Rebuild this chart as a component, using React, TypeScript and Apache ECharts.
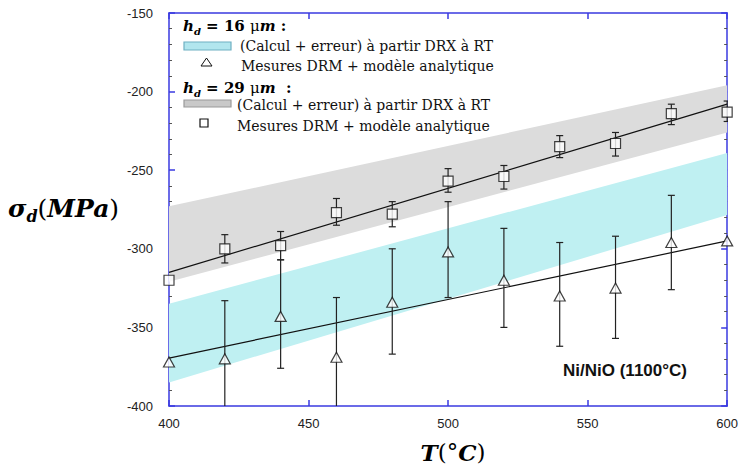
import React, { useEffect, useRef } from "react";
import * as echarts from "echarts";

// ---- data ----
const temps = [400, 420, 440, 460, 480, 500, 520, 540, 560, 580, 600];
// h_d = 29 µm  (squares)
const sqVals = [-320, -300, -298, -277, -278, -257, -254, -235, -233, -214, -213];
const sqErrLow: (number | null)[] = [null, -309, -307, -285, -286, -264, -262, -242, -241, -221, -219];
const sqErrHigh: (number | null)[] = [null, -291, -289, -268, -270, -249, -247, -228, -226, -208, -206];
// h_d = 16 µm  (triangles)
const triVals = [-372, -370, -343, -369, -334, -302, -320, -330, -325, -296, -295];
const triErrLow: (number | null)[] = [null, -408, -376, -408, -367, -331, -350, -362, -357, -326, null];
const triErrHigh: (number | null)[] = [null, -333, -307, -331, -300, -270, -287, -296, -292, -266, null];
// linear fits
const fitX = [400, 600];
const sqFit = [-315, -208];
const triFit = [-369.5, -295];
// calculated bands (calcul + erreur)
const bandX = [400, 600];
const grayLow = [-321, -226];
const grayHigh = [-273, -196];
const cyanLow = [-385, -278.5];
const cyanHigh = [-335, -239];
// axes
const xMin = 400, xMax = 600, xStep = 50;
const yMin = -400, yMax = -150, yStep = 50;

const BLUE = "#3a3ae0";
const SERIF = '"DejaVu Serif"';

function bandSeries(low: number[], high: number[], color: string) {
  return {
    type: "custom",
    silent: true,
    z: 1,
    clip: true,
    data: [[bandX[0], low[0]]],
    renderItem: (_p: any, api: any) => {
      const top = bandX.map((x, i) => api.coord([x, high[i]]));
      const bot = bandX.map((x, i) => api.coord([x, low[i]])).reverse();
      return { type: "polygon", shape: { points: [...top, ...bot] }, style: { fill: color } };
    },
  };
}

function errSeries(low: (number | null)[], high: (number | null)[]) {
  const data: number[][] = [];
  temps.forEach((t, i) => {
    if (low[i] != null && high[i] != null) data.push([t, low[i] as number, high[i] as number]);
  });
  return {
    type: "custom",
    silent: true,
    z: 3,
    clip: true,
    encode: { x: 0, y: [1, 2] },
    data,
    renderItem: (_p: any, api: any) => {
      const x = api.value(0);
      const a = api.coord([x, api.value(1)]);
      const b = api.coord([x, api.value(2)]);
      const w = 3.5;
      const st = { stroke: "#222", lineWidth: 1.2 };
      return {
        type: "group",
        children: [
          { type: "line", shape: { x1: a[0], y1: a[1], x2: b[0], y2: b[1] }, style: st },
          { type: "line", shape: { x1: a[0] - w, y1: a[1], x2: a[0] + w, y2: a[1] }, style: st },
          { type: "line", shape: { x1: b[0] - w, y1: b[1], x2: b[0] + w, y2: b[1] }, style: st },
        ],
      };
    },
  };
}

function axisCommon(showLabel: boolean) {
  return {
    axisLine: { show: true, lineStyle: { color: BLUE, width: 1.5 } },
    axisTick: { show: true, inside: true, length: 6, lineStyle: { color: BLUE, width: 1.5 } },
    splitLine: { show: false },
    axisLabel: showLabel
      ? { show: true, color: "#222", fontFamily: '"Liberation Sans"', fontSize: 13 }
      : { show: false },
  };
}

const legendText = { font: `14px ${SERIF}`, fill: "#111" };
const headingRich = {
  i: { fontFamily: SERIF, fontStyle: "italic", fontWeight: "bold", fontSize: 15, lineHeight: 20, color: "#111" },
  sub: { fontFamily: SERIF, fontStyle: "italic", fontWeight: "bold", fontSize: 10, lineHeight: 10, verticalAlign: "bottom", color: "#111" },
  b: { fontFamily: SERIF, fontWeight: "bold", fontSize: 15, lineHeight: 20, color: "#111" },
  n: { fontFamily: SERIF, fontSize: 15, lineHeight: 20, color: "#111" },
};

export default function App() {
  const ref = useRef<HTMLDivElement>(null);
  useEffect(() => {
    if (!ref.current) return;
    const chart = echarts.init(ref.current, null, { renderer: "svg" });
    const option: any = {
      animation: false,
      backgroundColor: "#fff",
      grid: { left: 169, right: 12, top: 13, bottom: 60 },
      xAxis: [
        { type: "value", min: xMin, max: xMax, interval: xStep, ...axisCommon(true),
          axisLabel: { color: "#222", fontFamily: '"Liberation Sans"', fontSize: 13, margin: 11 } },
        { type: "value", position: "top", min: xMin, max: xMax, interval: xStep, ...axisCommon(false) },
      ],
      yAxis: [
        { type: "value", min: yMin, max: yMax, interval: yStep, ...axisCommon(true),
          axisLabel: { color: "#222", fontFamily: '"Liberation Sans"', fontSize: 13, margin: 16 },
          minorTick: { show: true, splitNumber: 5, length: 3, lineStyle: { color: "#555" } } },
        { type: "value", position: "right", min: yMin, max: yMax, interval: yStep, ...axisCommon(false),
          minorTick: { show: true, splitNumber: 5, length: 3, lineStyle: { color: "#555" } } },
      ],
      series: [
        bandSeries(grayLow, grayHigh, "#dcdcdc"),
        bandSeries(cyanLow, cyanHigh, "#bff0f2"),
        { type: "line", z: 2, data: fitX.map((x, i) => [x, sqFit[i]]), symbol: "none", silent: true,
          lineStyle: { color: "#111", width: 1.2 } },
        { type: "line", z: 2, data: fitX.map((x, i) => [x, triFit[i]]), symbol: "none", silent: true,
          lineStyle: { color: "#111", width: 1.2 } },
        errSeries(sqErrLow, sqErrHigh),
        errSeries(triErrLow, triErrHigh),
        { type: "scatter", z: 5, data: temps.map((t, i) => [t, sqVals[i]]), symbol: "rect", symbolSize: 10,
          itemStyle: { color: "#fff", borderColor: "#111", borderWidth: 1.2 } },
        { type: "scatter", z: 5, data: temps.map((t, i) => [t, triVals[i]]), symbol: "triangle", symbolSize: [11, 10],
          itemStyle: { color: "#fff", borderColor: "#111", borderWidth: 1.2 } },
      ],
      graphic: [
        // legend
        { type: "text", x: 183, y: 26, style: { text: "{i|h}{sub|d}{b| = 16 }{n|μ}{i|m}{b| :}", rich: headingRich, verticalAlign: "middle" } },
        { type: "rect", shape: { x: 184, y: 42, width: 47, height: 8 }, style: { fill: "#b2e6ee", stroke: "#6fb0c2", lineWidth: 1.2 } },
        { type: "text", x: 240, y: 46, style: { ...legendText, text: "(Calcul + erreur) à partir DRX à RT", verticalAlign: "middle" } },
        { type: "polygon", shape: { points: [[201, 66], [212, 66], [206.5, 58]] }, style: { fill: "#fff", stroke: "#111", lineWidth: 1 } },
        { type: "text", x: 241, y: 66, style: { ...legendText, text: "Mesures DRM + modèle analytique", verticalAlign: "middle" } },
        { type: "text", x: 183, y: 88, style: { text: "{i|h}{sub|d}{b| = 29 }{n|μ}{i|m}{b|  :}", rich: headingRich, verticalAlign: "middle" } },
        { type: "rect", shape: { x: 184, y: 100, width: 47, height: 7 }, style: { fill: "#c9c9c9", stroke: "#9a9a9a", lineWidth: 1.2 } },
        { type: "text", x: 237, y: 105, style: { ...legendText, text: "(Calcul + erreur) à partir DRX à RT", verticalAlign: "middle" } },
        { type: "rect", shape: { x: 200, y: 119, width: 8, height: 8 }, style: { fill: "#fff", stroke: "#111", lineWidth: 1.2 } },
        { type: "text", x: 237, y: 126, style: { ...legendText, text: "Mesures DRM + modèle analytique", verticalAlign: "middle" } },
        // annotation
        { type: "text", x: 625, y: 370, style: { text: "Ni/NiO (1100°C)", font: 'bold 17px "Liberation Sans"', fill: "#111", align: "center", verticalAlign: "middle" } },
        // axis titles
        { type: "text", x: 8, y: 208, style: {
            text: "{m|σ}{sub|d}{p|(}{m|MPa}{p|)}", verticalAlign: "middle",
            rich: {
              m: { fontFamily: SERIF, fontStyle: "italic", fontWeight: "bold", fontSize: 25, lineHeight: 32, color: "#111" },
              sub: { fontFamily: SERIF, fontStyle: "italic", fontWeight: "bold", fontSize: 16, lineHeight: 16, verticalAlign: "bottom", color: "#111" },
              p: { fontFamily: SERIF, fontSize: 25, lineHeight: 32, color: "#111" },
            } } },
        { type: "text", x: 453, y: 452, style: {
            text: "{m|T}{p|(°}{m|C}{p|)}", align: "center", verticalAlign: "middle",
            rich: {
              m: { fontFamily: SERIF, fontStyle: "italic", fontWeight: "bold", fontSize: 23, lineHeight: 30, color: "#111" },
              p: { fontFamily: SERIF, fontSize: 23, lineHeight: 30, color: "#111" },
            } } },
      ],
    };
    chart.setOption(option);
    return () => chart.dispose();
  }, []);
  return <div ref={ref} style={{ position: "fixed", left: 0, top: 0, width: 741, height: 466 }} />;
}
